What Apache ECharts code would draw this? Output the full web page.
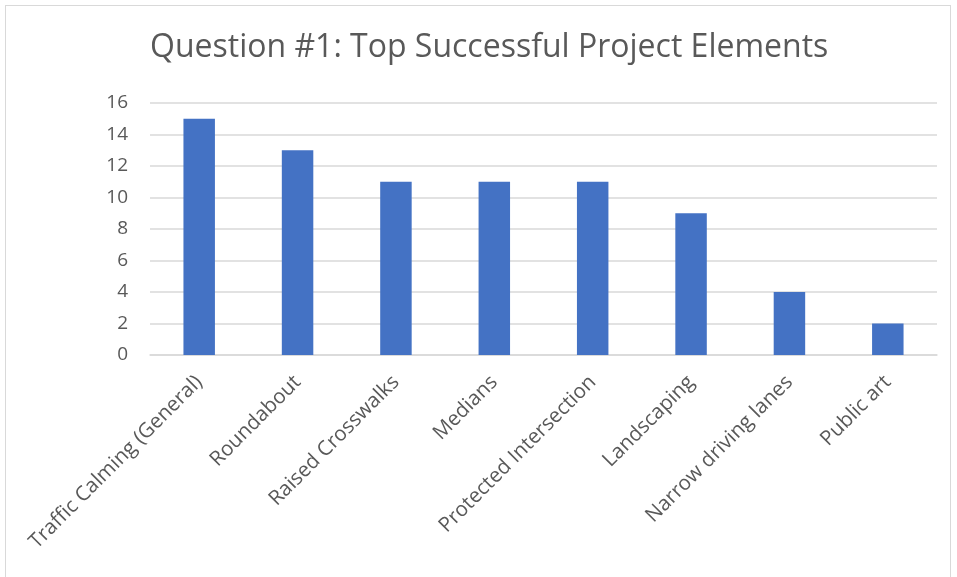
<!DOCTYPE html>
<html><head><meta charset="utf-8">
<script src="https://cdn.jsdelivr.net/npm/echarts@6/dist/echarts.min.js"></script>
<style>
html,body{margin:0;padding:0;background:#fff;}
#frame{position:absolute;left:5px;top:5px;width:946px;height:580px;border:1.5px solid #d9d9d9;box-sizing:border-box;}
#c{position:absolute;left:0;top:0;width:957px;height:577px;}
</style></head><body>
<div id="frame"></div>
<div id="c"></div>
<script>
const categories = ["Traffic Calming (General)","Roundabout","Raised Crosswalks","Medians","Protected Intersection","Landscaping","Narrow driving lanes","Public art"];
const values = [15,13,11,11,11,9,4,2];
const titleText = "Question #1: Top Successful Project Elements";
const chart = echarts.init(document.getElementById('c'));
chart.setOption({
  animation:false,
  title:{text:titleText,left:145,top:27,textStyle:{fontFamily:'Open Sans',fontSize:32,fontWeight:'normal',color:'#595959'}},
  grid:{left:150,right:20,top:103,bottom:222},
  xAxis:{type:'category',data:categories,
    axisLine:{lineStyle:{color:'#d9d9d9',width:1.5}},axisTick:{show:false},
    axisLabel:{rotate:45,interval:0,margin:24,fontFamily:'Open Sans',fontSize:20.5,color:'#595959'}},
  yAxis:{type:'value',min:0,max:16,interval:2,
    axisLine:{show:false},axisTick:{show:false},
    splitLine:{lineStyle:{color:'#d9d9d9',width:1.5}},
    axisLabel:{margin:22,fontFamily:'Open Sans',fontSize:19,color:'#595959'}},
  series:[{type:'bar',data:values,barWidth:'32%',itemStyle:{color:'#4472C4'}}]
});
</script></body></html>
